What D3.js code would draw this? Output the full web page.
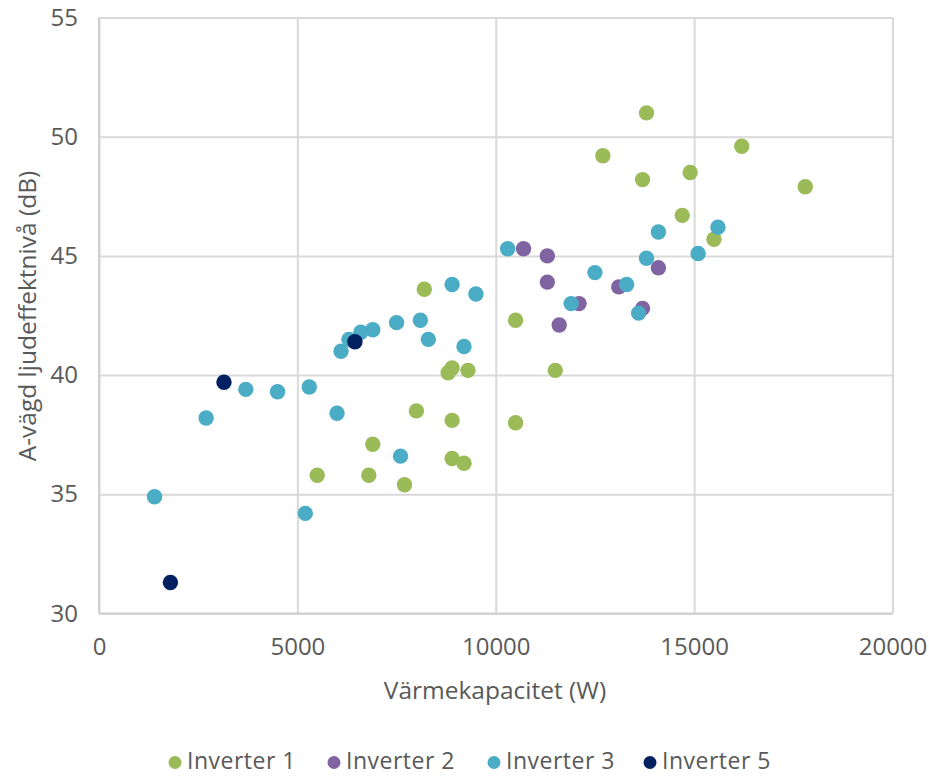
<!DOCTYPE html>
<html><head><meta charset="utf-8">
<script src="https://cdn.jsdelivr.net/npm/d3@7"></script>
<style>body{margin:0;background:#fff}svg{display:block}text{font-family:"Open Sans",sans-serif;fill:#595959}</style>
</head><body><svg id="c" width="929" height="776"></svg>
<script>
const seriesNames = ["Inverter 1","Inverter 2","Inverter 3","Inverter 5"];
const seriesColors = ["#9BBB59","#8064A2","#4BACC6","#002060"];
const inv1X = [13800,12700,16200,13700,14900,17800,14700,15500,10500,11500,10500,8900,8800,9300,8000,8900,6900,8900,9200,5500,6800,7700,8200];
const inv1Y = [51.0,49.2,49.6,48.2,48.5,47.9,46.7,45.7,42.3,40.2,38.0,40.3,40.1,40.2,38.5,38.1,37.1,36.5,36.3,35.8,35.8,35.4,43.6];
const inv2X = [10700,11300,11300,14100,12100,13100,13700,11600];
const inv2Y = [45.3,45.0,43.9,44.5,43.0,43.7,42.8,42.1];
const inv3X = [10300,14100,15600,13800,15100,12500,13300,11900,13600,9500,8900,7500,8100,8300,9200,6900,6600,6300,6100,5300,4500,3700,2700,6000,7600,1400,5200];
const inv3Y = [45.3,46.0,46.2,44.9,45.1,44.3,43.8,43.0,42.6,43.4,43.8,42.2,42.3,41.5,41.2,41.9,41.8,41.5,41.0,39.5,39.3,39.4,38.2,38.4,36.6,34.9,34.2];
const inv5X = [3150,6450,1800];
const inv5Y = [39.7,41.4,31.3];
const xTicks = [0,5000,10000,15000,20000];
const yTicks = [30,35,40,45,50,55];
const xTitle = "Värmekapacitet (W)";
const yTitle = "A-vägd ljudeffektnivå (dB)";

const series = [[inv1X,inv1Y],[inv2X,inv2Y],[inv3X,inv3Y],[inv5X,inv5Y]];
const svg = d3.select("#c");
const L=99, R=892.5, T=17.5, B=613.5;
const x = d3.scaleLinear().domain([0,20000]).range([L,R]);
const y = d3.scaleLinear().domain([30,55]).range([B,T]);

const gx = svg.append("g").attr("transform",`translate(0,${B})`)
  .call(d3.axisBottom(x).tickValues(xTicks).tickSize(-(B-T)).tickFormat(d=>d).tickPadding(24));
const gy = svg.append("g").attr("transform",`translate(${L},0)`)
  .call(d3.axisLeft(y).tickValues(yTicks).tickSize(-(R-L)).tickFormat(d=>d).tickPadding(21));
[gx,gy].forEach(g=>{
  g.select(".domain").remove();
  g.selectAll(".tick line").attr("stroke","#D9D9D9").attr("stroke-width",2);
  g.selectAll(".tick text").style("font-size","24px").attr("fill","#595959");
});
gx.selectAll(".tick text").attr("dy","0.71em");
svg.append("line").attr("x1",L).attr("x2",R).attr("y1",B).attr("y2",B).attr("stroke","#D0D0D0").attr("stroke-width",2);
svg.append("line").attr("x1",L).attr("x2",L).attr("y1",T).attr("y2",B).attr("stroke","#D0D0D0").attr("stroke-width",2);

series.forEach((s,i)=>{
  svg.append("g").selectAll("circle").data(d3.range(s[0].length)).join("circle")
    .attr("cx",j=>x(s[0][j])).attr("cy",j=>y(s[1][j])).attr("r",7.7).attr("fill",seriesColors[i]);
});

svg.append("text").attr("x",495).attr("y",699).attr("text-anchor","middle").style("font-size","24.5px").text(xTitle);
svg.append("text").attr("transform",`translate(36,${316}) rotate(-90)`).attr("text-anchor","middle").style("font-size","24.5px").text(yTitle);

const legX = [175,334,494,650];
const lg = svg.append("g");
seriesNames.forEach((n,i)=>{
  lg.append("circle").attr("cx",legX[i]).attr("cy",762.5).attr("r",6.5).attr("fill",seriesColors[i]);
  lg.append("text").attr("x",legX[i]+12).attr("y",769).style("font-size","23px").style("letter-spacing","0.5px").text(n);
});
</script></body></html>
